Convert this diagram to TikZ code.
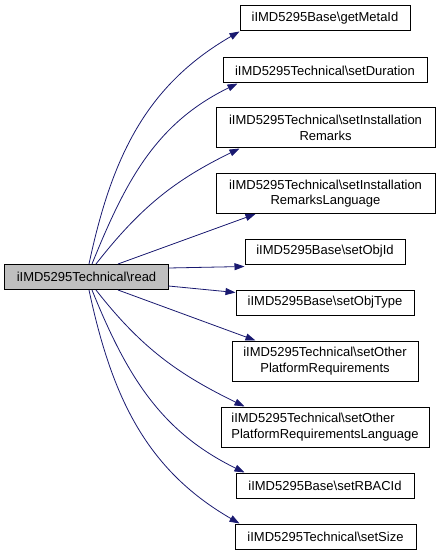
\documentclass[tikz,border=0pt]{standalone}
\usepackage{fontspec}
\setmainfont{Liberation Sans}
\usetikzlibrary{arrows.meta}
\definecolor{edgeblue}{HTML}{191970}
\definecolor{readgray}{HTML}{BFBFBF}
\tikzset{
  fn/.style={draw=black,line width=1bp,inner sep=0pt,font=\fontsize{13bp}{15.5bp}\selectfont,minimum height=25bp},
  fntwo/.style={fn,minimum height=40bp,align=center},
  call/.style={draw=edgeblue,line width=0.8bp,-{Triangle[length=10bp,width=7bp]}}
}
\begin{document}
\begin{tikzpicture}[x=1bp,y=-1bp]
\useasboundingbox (0,0) rectangle (440,555);
\node[fn,fill=readgray,minimum width=163bp] (read) at (86.5,277) {iIMD5295Technical\textbackslash read};
\node[fn,minimum width=170bp] (getMetaId) at (325,18.5) {iIMD5295Base\textbackslash getMetaId};
\node[fn,minimum width=204bp] (setDuration) at (325,70.5) {iIMD5295Technical\textbackslash setDuration};
\node[fntwo,minimum width=219bp] (setInstRem) at (325.5,128) {iIMD5295Technical\textbackslash setInstallation\\Remarks};
\node[fntwo,minimum width=219bp] (setInstRemLang) at (325.5,193.5) {iIMD5295Technical\textbackslash setInstallation\\RemarksLanguage};
\node[fn,minimum width=160bp] (setObjId) at (325,251.5) {iIMD5295Base\textbackslash setObjId};
\node[fn,minimum width=178bp] (setObjType) at (325,302.5) {iIMD5295Base\textbackslash setObjType};
\node[fntwo,minimum width=186bp] (setOtherReq) at (325,361) {iIMD5295Technical\textbackslash setOther\\PlatformRequirements};
\node[fntwo,align=left,minimum width=208bp] (setOtherReqLang) at (325,427) {iIMD5295Technical\textbackslash setOther\\PlatformRequirementsLanguage};
\node[fn,minimum width=178bp] (setRBACId) at (325,485.5) {iIMD5295Base\textbackslash setRBACId};
\node[fn,minimum width=181bp] (setSize) at (325.5,536.5) {iIMD5295Technical\textbackslash setSize};
\draw[call] ([xshift=2.5bp]read.north) to[out=78,in=210] (getMetaId.south west);
\draw[call] ([xshift=5.5bp]read.north) to[out=68,in=206] ([xshift=15bp]setDuration.south west);
\draw[call] ([xshift=9.5bp]read.north) to[out=52,in=206] ([xshift=24bp]setInstRem.south west);
\draw[call] ([xshift=31.5bp]read.north) -- ([xshift=40bp]setInstRemLang.south west);
\draw[call] ([yshift=9bp]read.east) -- ([yshift=-2bp]setObjId.south west);
\draw[call] ([yshift=-9bp]read.east) -- ([yshift=-3bp]setObjType.north west);
\draw[call] ([xshift=31.5bp]read.south) -- ([xshift=24bp]setOtherReq.north west);
\draw[call] ([xshift=9.5bp]read.south) to[out=-52,in=154] ([xshift=24bp]setOtherReqLang.north west);
\draw[call] ([xshift=5.5bp]read.south) to[out=-68,in=154] ([xshift=9bp]setRBACId.north west);
\draw[call] ([xshift=2.5bp]read.south) to[out=-78,in=150] ([xshift=5bp]setSize.north west);
\end{tikzpicture}
\end{document}
